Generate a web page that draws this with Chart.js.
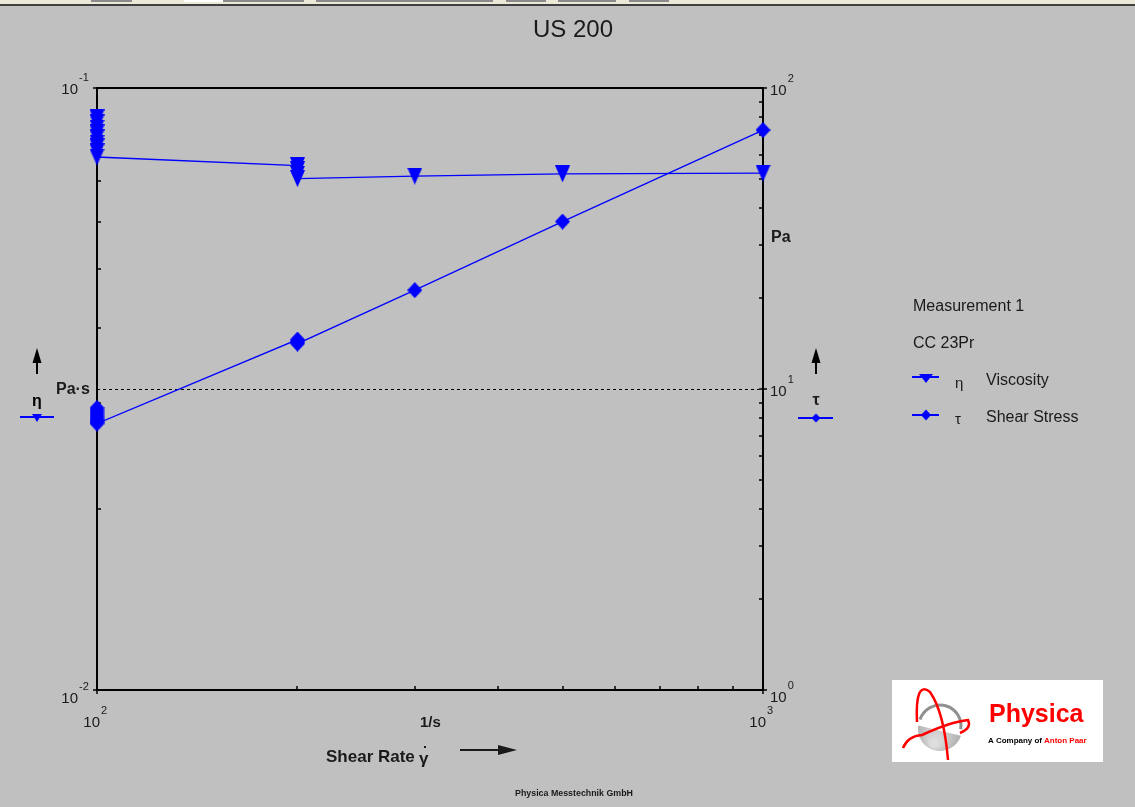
<!DOCTYPE html>
<html>
<head>
<meta charset="utf-8">
<title>US 200</title>
<script src="https://cdn.jsdelivr.net/npm/chart.js@4.4.1/dist/chart.umd.min.js"></script>
<style>
  html, body { margin: 0; padding: 0; background: #c0c0c0; overflow: hidden; }
  canvas { display: block; }
</style>
</head>
<body>
<canvas id="rheoChart" width="1135" height="807"></canvas>
<script>
// US 200 flow curve: viscosity (left) and shear stress (right) vs shear rate, log-log
var shearRate = [100, 100, 100, 100, 100, 100, 100, 100, 100, 200, 200, 200, 200, 300, 500, 1000];
var viscosity = [0.0892, 0.0875, 0.0858, 0.0842, 0.0826, 0.0810, 0.0798, 0.0783, 0.0768,
                 0.0743, 0.0731, 0.0719, 0.0707, 0.0714, 0.0720, 0.0722];
var shearStress = [8.65, 8.50, 8.36, 8.22, 8.08, 7.95, 7.84, 7.76, 7.68,
                   14.6, 14.45, 14.3, 14.15, 21.3, 36.0, 72.5];

// axis ticks (decades get a label 10^n)
var xTicks = [100, 200, 300, 400, 500, 600, 700, 800, 900, 1000];
var xDecades = [2, 3];
var etaTicks = [0.01, 0.02, 0.03, 0.04, 0.05, 0.06, 0.07, 0.08, 0.09, 0.1];
var etaDecades = [-2, -1];
var tauTicks = [1, 2, 3, 4, 5, 6, 7, 8, 9, 10, 20, 30, 40, 50, 60, 70, 80, 90, 100];
var tauDecades = [0, 1, 2];

var BLUE = '#0000ff';
var FONT = '"Liberation Sans", Arial, sans-serif';

function marker(kind, w, h) {
  var c = document.createElement('canvas');
  c.width = w; c.height = h;
  var g = c.getContext('2d');
  g.fillStyle = BLUE;
  g.beginPath();
  if (kind === 'tri') {
    g.moveTo(0, 0); g.lineTo(w, 0); g.lineTo(w / 2, h);
  } else {
    g.moveTo(w / 2, 0); g.lineTo(w, h / 2); g.lineTo(w / 2, h); g.lineTo(0, h / 2);
  }
  g.closePath();
  g.fill();
  return c;
}

function toPoints(ys) {
  return shearRate.map(function (x, i) { return { x: x, y: ys[i] }; });
}

function pow10(ctx, x, y, exp, align) {
  ctx.font = '15px ' + FONT;
  ctx.textBaseline = 'middle';
  ctx.textAlign = 'left';
  var w = ctx.measureText('10').width;
  var x0 = align === 'right' ? x - w : x;
  ctx.fillText('10', x0, y);
  ctx.font = '11px ' + FONT;
  ctx.fillText(String(exp), x0 + w + 1, y - 12);
}

function triPath(ctx, cx, top, w, h) {
  ctx.beginPath();
  ctx.moveTo(cx - w / 2, top); ctx.lineTo(cx + w / 2, top); ctx.lineTo(cx, top + h);
  ctx.closePath(); ctx.fill();
}
function diaPath(ctx, cx, cy, w, h) {
  ctx.beginPath();
  ctx.moveTo(cx, cy - h / 2); ctx.lineTo(cx + w / 2, cy); ctx.lineTo(cx, cy + h / 2); ctx.lineTo(cx - w / 2, cy);
  ctx.closePath(); ctx.fill();
}
function upArrow(ctx, cx) {
  ctx.fillStyle = '#000';
  ctx.fillRect(cx - 1, 356, 2, 18);
  ctx.beginPath();
  ctx.moveTo(cx, 348); ctx.lineTo(cx + 4.5, 363); ctx.lineTo(cx - 4.5, 363);
  ctx.closePath(); ctx.fill();
}

var framePlugin = {
  id: 'frame',
  beforeDraw: function (chart) {
    var ctx = chart.ctx;
    ctx.save();
    ctx.fillStyle = '#c0c0c0';
    ctx.fillRect(0, 0, chart.width, chart.height);
    // window toolbar remnant at the very top
    ctx.fillStyle = '#ece9d8';
    ctx.fillRect(0, 0, chart.width, 4);
    ctx.fillStyle = '#8a8a8a';
    [[91, 132], [223, 304], [316, 493], [506, 546], [558, 616], [629, 669]].forEach(function (r) {
      ctx.fillRect(r[0], 0, r[1] - r[0], 2);
    });
    ctx.fillStyle = '#ffffff';
    ctx.fillRect(184, 0, 39, 2);
    ctx.fillStyle = '#404040';
    ctx.fillRect(0, 4, chart.width, 2);
    ctx.restore();
  },
  beforeDatasetsDraw: function (chart) {
    var ctx = chart.ctx, a = chart.chartArea;
    var sx = chart.scales.x, sl = chart.scales.yEta, sr = chart.scales.yTau;
    ctx.save();
    // dashed reference line at tau = 10 Pa
    var yd = Math.round(sr.getPixelForValue(10)) + 0.5;
    ctx.strokeStyle = '#000';
    ctx.lineWidth = 1;
    ctx.setLineDash([3, 3]);
    ctx.beginPath(); ctx.moveTo(a.left, yd); ctx.lineTo(a.right - 4, yd); ctx.stroke();
    ctx.setLineDash([]);

    // frame
    ctx.strokeStyle = '#000';
    ctx.lineWidth = 2;
    ctx.strokeRect(a.left, a.top, a.right - a.left, a.bottom - a.top);

    ctx.lineWidth = 1.5;
    ctx.beginPath();
    etaTicks.forEach(function (v) {
      var y = Math.round(sl.getPixelForValue(v));
      ctx.moveTo(a.left - (v === 0.01 || v === 0.1 ? 4 : 0), y);
      ctx.lineTo(a.left + 4, y);
    });
    tauTicks.forEach(function (v) {
      var y = Math.round(sr.getPixelForValue(v));
      var dec = (v === 1 || v === 10 || v === 100);
      ctx.moveTo(a.right - 4, y);
      ctx.lineTo(a.right + (dec ? 4 : 0), y);
    });
    xTicks.forEach(function (v) {
      var x = Math.round(sx.getPixelForValue(v));
      var dec = (v === 100 || v === 1000);
      ctx.moveTo(x, a.bottom - 4);
      ctx.lineTo(x, a.bottom + (dec ? 4 : 0));
    });
    ctx.stroke();
    ctx.restore();
  },
  afterDraw: function (chart) {
    var ctx = chart.ctx, a = chart.chartArea;
    var sx = chart.scales.x, sl = chart.scales.yEta, sr = chart.scales.yTau;
    ctx.save();
    ctx.fillStyle = '#1a1a1a';

    // title
    ctx.font = '24px ' + FONT;
    ctx.textAlign = 'center';
    ctx.textBaseline = 'middle';
    ctx.fillText('US 200', 573, 30);

    // tick labels
    etaDecades.forEach(function (e) {
      pow10(ctx, a.left - 19, sl.getPixelForValue(Math.pow(10, e)) + 2 + (e === -2 ? 7 : 0), e, 'right');
    });
    tauDecades.forEach(function (e) {
      pow10(ctx, a.right + 7, sr.getPixelForValue(Math.pow(10, e)) + 3 + (e === 0 ? 5 : 0), e, 'left');
    });
    xDecades.forEach(function (e) {
      pow10(ctx, sx.getPixelForValue(Math.pow(10, e)) + 3, a.bottom + 33, e, 'right');
    });

    // axis units / titles
    ctx.textBaseline = 'middle';
    ctx.textAlign = 'left';
    ctx.font = 'bold 15px ' + FONT;
    ctx.fillText('1/s', 420, 723);
    ctx.font = 'bold 17px ' + FONT;
    ctx.fillText('Shear Rate', 326, 757);
    ctx.fillText('\u03b3', 419, 759);
    ctx.fillRect(424, 746, 2, 2);
    // shear-rate arrow
    ctx.fillRect(460, 749, 42, 2);
    ctx.beginPath();
    ctx.moveTo(498, 745); ctx.lineTo(517, 750); ctx.lineTo(498, 755);
    ctx.closePath(); ctx.fill();

    ctx.font = 'bold 16px ' + FONT;
    ctx.fillText('Pa\u00b7s', 56, 390);
    ctx.fillText('Pa', 771, 238);

    // left eta marker block
    upArrow(ctx, 37);
    ctx.font = 'bold 16px ' + FONT;
    ctx.textAlign = 'center';
    ctx.fillText('\u03b7', 37, 402);
    ctx.fillStyle = BLUE;
    ctx.fillRect(20, 416, 34, 2);
    triPath(ctx, 37, 414, 10, 8);

    // right tau marker block
    upArrow(ctx, 816);
    ctx.fillStyle = '#1a1a1a';
    ctx.fillText('\u03c4', 816, 401);
    ctx.fillStyle = BLUE;
    ctx.fillRect(798, 417, 35, 2);
    diaPath(ctx, 816, 418, 9, 9);

    // legend
    ctx.fillStyle = '#1a1a1a';
    ctx.textAlign = 'left';
    ctx.font = '16px ' + FONT;
    ctx.fillText('Measurement 1', 913, 307);
    ctx.fillText('CC 23Pr', 913, 344);
    ctx.fillText('Viscosity', 986, 381);
    ctx.fillText('Shear Stress', 986, 418);
    ctx.font = '15px ' + FONT;
    ctx.fillText('\u03b7', 955, 384);
    ctx.fillText('\u03c4', 955, 420);
    ctx.fillStyle = BLUE;
    ctx.fillRect(912, 376, 27, 2);
    triPath(ctx, 926, 374, 14, 9);
    ctx.fillRect(912, 414, 27, 2);
    diaPath(ctx, 926, 415, 10, 11);

    // footer
    ctx.fillStyle = '#1a1a1a';
    ctx.font = 'bold 9px ' + FONT;
    ctx.textAlign = 'center';
    ctx.fillText('Physica Messtechnik GmbH', 574, 794, 118);

    // Physica logo card
    ctx.fillStyle = '#ffffff';
    ctx.fillRect(892, 680, 211, 82);
    var grad = ctx.createRadialGradient(934, 744, 3, 940, 730, 25);
    grad.addColorStop(0, '#dedede');
    grad.addColorStop(1, '#a8a8a8');
    ctx.fillStyle = grad;
    ctx.beginPath(); ctx.arc(940, 729, 22, 0.1 * Math.PI, 1.05 * Math.PI); ctx.fill();
    ctx.strokeStyle = '#909090';
    ctx.lineWidth = 3;
    ctx.beginPath(); ctx.arc(940, 726, 21, 1.1 * Math.PI, 2.05 * Math.PI); ctx.stroke();
    ctx.strokeStyle = '#ff0000';
    ctx.lineWidth = 2.5;
    ctx.beginPath();
    ctx.moveTo(917, 722); ctx.quadraticCurveTo(915, 680, 930, 692);
    ctx.quadraticCurveTo(944, 712, 948, 760);
    ctx.stroke();
    ctx.beginPath();
    ctx.moveTo(903, 748); ctx.quadraticCurveTo(908, 736, 922, 735);
    ctx.quadraticCurveTo(950, 722, 968, 720);
    ctx.quadraticCurveTo(972, 728, 960, 733);
    ctx.stroke();

    ctx.fillStyle = '#ff0000';
    ctx.textAlign = 'left';
    ctx.textBaseline = 'alphabetic';
    ctx.font = 'bold 25px ' + FONT;
    ctx.fillText('Physica', 989, 722, 100);
    ctx.font = 'bold 8px ' + FONT;
    ctx.textBaseline = 'middle';
    ctx.fillStyle = '#000';
    ctx.fillText('A Company of', 988, 741, 54);
    ctx.fillStyle = '#ff0000';
    ctx.fillText('Anton Paar', 1044, 741, 46);
    ctx.restore();
  }
};

new Chart(document.getElementById('rheoChart').getContext('2d'), {
  type: 'scatter',
  data: {
    datasets: [{
      label: 'Viscosity',
      data: toPoints(viscosity),
      yAxisID: 'yEta',
      showLine: true,
      borderColor: BLUE,
      borderWidth: 1.3,
      pointStyle: marker('tri', 15, 17),
      pointRadius: 8,
      tension: 0,
      clip: false
    }, {
      label: 'Shear Stress',
      data: toPoints(shearStress),
      yAxisID: 'yTau',
      showLine: true,
      borderColor: BLUE,
      borderWidth: 1.3,
      pointStyle: marker('dia', 15, 16),
      pointRadius: 8,
      tension: 0,
      clip: false
    }]
  },
  options: {
    responsive: false,
    animation: false,
    events: [],
    layout: { padding: { left: 97, top: 88, right: 372, bottom: 117 } },
    plugins: { legend: { display: false }, tooltip: { enabled: false } },
    scales: {
      x: { type: 'logarithmic', min: 100, max: 1000, display: false },
      yEta: { type: 'logarithmic', min: 0.01, max: 0.1, display: false },
      yTau: { type: 'logarithmic', min: 1, max: 100, display: false }
    }
  },
  plugins: [framePlugin]
});
</script>
</body>
</html>
